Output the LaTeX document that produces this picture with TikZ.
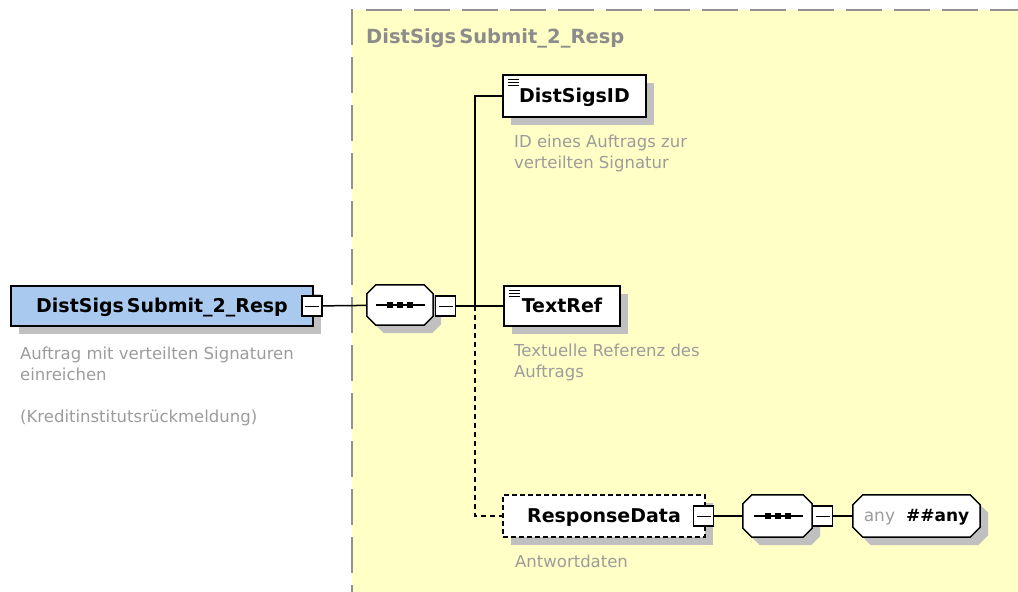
\documentclass[tikz,border=0pt]{standalone}
\usepackage{fontspec}
\setmainfont{DejaVu Sans}
\usetikzlibrary{
  shadows,
  backgrounds,
  positioning
}
\definecolor{xsdZone}{HTML}{FFFFC6}
\definecolor{xsdBlue}{HTML}{A9C9EF}
\definecolor{xsdDash}{HTML}{919191}
\definecolor{xsdLabel}{HTML}{8C8C8C}
\definecolor{xsdText}{HTML}{9C9C9C}
\definecolor{xsdShadow}{HTML}{C0C0C0}
% outline with cut corners round a named node
\newcommand{\chamferpath}[2]{%
  ([xshift=#2]#1.north west) -- ([xshift=-#2]#1.north east)
  -- ([yshift=-#2]#1.north east) -- ([yshift=#2]#1.south east)
  -- ([xshift=-#2]#1.south east) -- ([xshift=#2]#1.south west)
  -- ([yshift=#2]#1.south west) -- ([yshift=-#2]#1.north west) -- cycle}
% the sequence sign inside a compositor
\newcommand{\seqglyph}[1]{%
  \draw[line width=1.4pt] ([xshift=-24pt]#1.center) -- ([xshift=25pt]#1.center);
  \foreach \dx in {-10,0,10}
    \fill ([xshift=\dx pt]#1.center) +(-3pt,-3pt) rectangle +(3pt,3pt);
}
\tikzset{
  xsdshadow/.style={general shadow={fill=xsdShadow, shadow xshift=8pt, shadow yshift=-8pt}},
  xsdelem/.style={
    draw, line width=1.5pt, fill=white, minimum height=40pt, inner sep=0pt,
    text height=14pt, text depth=2pt, font=\fontsize{19}{23}\selectfont\bfseries,
    xsdshadow
  },
  simple/.style={
    path picture={
      \foreach \dy in {4,7,10}
        \draw[line width=1pt] ([xshift=5pt,yshift=-\dy pt]path picture bounding box.north west)
          -- ++(11pt,0pt);
    }
  },
  optional/.style={dash pattern=on 5pt off 3pt},
  minusbox/.style={
    draw, line width=1.2pt, fill=white, minimum width=20pt, minimum height=20pt, inner sep=0pt,
    path picture={
      \draw[line width=1pt] ([xshift=3pt]path picture bounding box.west)
        -- ([xshift=-3pt]path picture bounding box.east);
    }
  },
  compositor/.style={minimum width=66pt, minimum height=40pt, inner sep=0pt},
  wildcard/.style={
    minimum width=127pt, minimum height=42pt, inner sep=0pt,
    text height=13pt, text depth=2pt, font=\fontsize{17}{21}\selectfont
  },
  cutbox/.style={line width=1.5pt, draw=black, fill=white},
  desc/.style={anchor=base west, align=left, inner sep=0pt,
    font=\fontsize{16.5}{21}\selectfont, text=xsdText},
  zonelabel/.style={anchor=base west, inner sep=0pt,
    font=\fontsize{19.5}{23}\selectfont\bfseries, text=xsdLabel},
  zoneline/.style={line width=2pt, xsdDash, dash pattern=on 36pt off 12pt},
  link/.style={line width=1.5pt, black}
}

\begin{document}
\begin{tikzpicture}[x=1pt,y=-1pt]
  \useasboundingbox (0,0) rectangle (1018,592);
  % complex type area
  \begin{scope}[on background layer]
    \fill[xsdZone] (352,10) rectangle (1018,592);
    \draw[zoneline] (352,9) -- (352,592);
    \draw[zoneline] (366,10) -- (1018,10);
  \end{scope}
  \node[zonelabel] (zonename) at (366,43) {DistSigs\kern3pt Submit\_2\_Resp};

  % root element
  \node[xsdelem, fill=xsdBlue, minimum width=302pt] (root) at (162,306) {DistSigs\kern3pt Submit\_2\_Resp};
  \node[minusbox] (rootm) at (312,306) {};
  \node[desc] (rootdesc) at (20,422) {Auftrag mit verteilten Signaturen\\einreichen\\[21pt](Kreditinstitutsrückmeldung)};

  % sequence of the type
  \node[compositor] (seq1) at (400,305) {};
  \node[minusbox] (seq1m) at (445.5,306) {};
  \coordinate (fork) at (475,306);

  \node[xsdelem, simple, minimum width=143pt, minimum height=42pt] (distid) at (574.5,96) {DistSigsID};
  \node[desc] (distiddesc) at (514,168) {ID eines Auftrags zur\\verteilten Signatur};
  \node[xsdelem, simple, minimum width=116pt] (textref) at (562,306) {TextRef};
  \node[desc] (textrefdesc) at (514,377) {Textuelle Referenz des\\Auftrags};
  \node[xsdelem, optional, minimum width=202pt, minimum height=42pt] (respdata) at (604,516) {ResponseData};
  \node[minusbox] (respm) at (703.5,516) {};
  \node[desc] (respdesc) at (515,567) {Antwortdaten};

  % any content
  \node[compositor, minimum width=69pt, minimum height=42pt] (seq2) at (777.5,516) {};
  \node[minusbox] (seq2m) at (822.5,516) {};
  \node[wildcard] (anyel) at (916.5,516) {{\color{xsdText}any}\hspace{11pt}{\bfseries\#\#any}};

  \begin{scope}[on background layer]
    \foreach \n/\c in {seq1/9pt, seq2/9pt, anyel/10pt} {
      \fill[xsdShadow, transform canvas={xshift=8pt, yshift=-8pt}] \chamferpath{\n}{\c};
      \filldraw[cutbox] \chamferpath{\n}{\c};
    }
  \end{scope}
  \seqglyph{seq1}
  \seqglyph{seq2}

  \draw[link] (rootm) -- (seq1);
  \draw[link] (seq1m) -- (textref);
  \draw[link] (fork) |- (distid);
  \draw[link, dash pattern=on 5pt off 4pt] (fork) |- (respdata);
  \draw[link] (respm) -- (seq2);
  \draw[link] (seq2m) -- (anyel);
\end{tikzpicture}
\end{document}
